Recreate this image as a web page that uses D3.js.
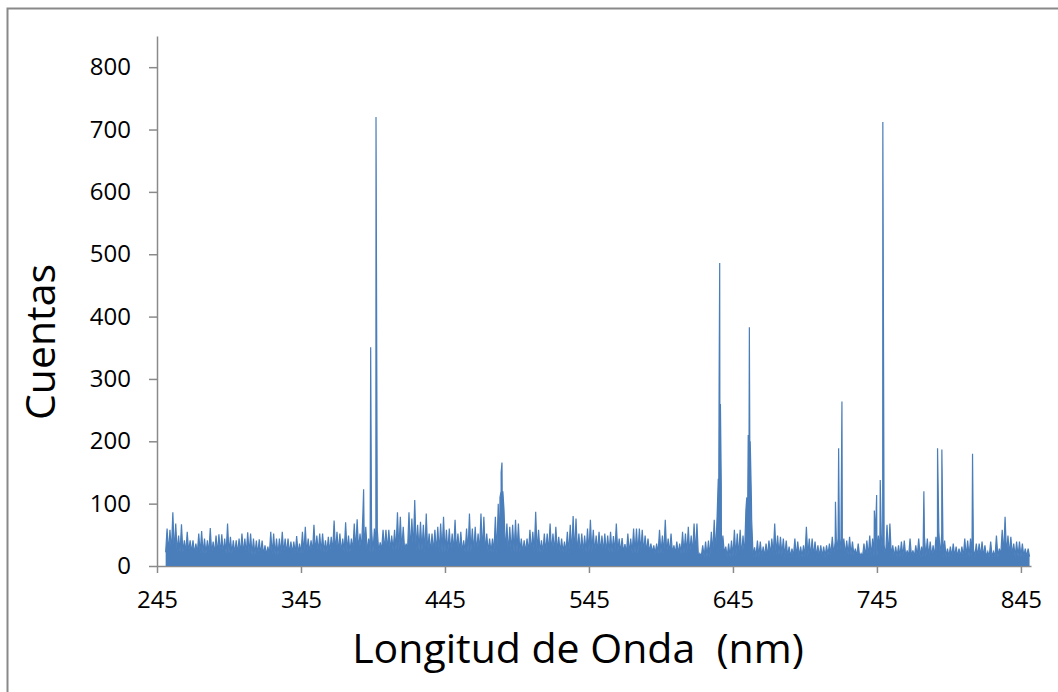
<!DOCTYPE html>
<html>
<head>
<meta charset="utf-8">
<script src="https://cdnjs.cloudflare.com/ajax/libs/d3/7.8.5/d3.min.js"></script>
<style>
  body { margin: 0; background: #fff; }
  text { font-family: "Open Sans", sans-serif; fill: #000; }
</style>
</head>
<body>
<div id="chart"></div>
<script>
// noise envelope: highest count in each 2 nm bin, first bin at 252 nm
var noiseStart = 252, noiseStep = 2;
var noiseHigh = [
  60,58,86,68,49,67,41,55,41,41,
  36,52,56,44,41,61,39,49,51,51,
  44,68,47,41,41,44,52,44,54,52,
  44,41,43,41,33,31,55,52,44,44,
  55,44,44,39,39,48,36,55,63,44,
  41,66,49,52,52,41,47,47,73,55,
  52,44,70,49,44,68,75,52,84,63,
  44,60,60,58,38,58,58,58,49,58,
  86,79,63,36,86,76,106,66,71,66,
  84,52,52,58,63,68,79,58,60,52,
  74,52,55,41,60,84,60,63,52,84,
  79,52,44,44,79,100,120,90,68,63,
  66,74,68,44,41,44,58,55,87,58,
  41,52,52,68,52,63,47,44,39,55,
  66,80,76,52,52,49,60,74,58,49,
  55,49,52,49,55,48,68,44,45,35,
  52,44,60,60,60,58,49,44,36,33,
  36,58,49,74,44,52,33,39,36,55,
  52,63,49,68,68,20,33,39,41,55,
  74,80,60,49,31,36,41,58,52,58,
  49,90,60,74,30,41,39,31,36,41,
  44,68,49,47,44,41,31,28,44,39,
  31,33,63,44,44,39,33,33,31,33,
  36,47,39,45,44,44,41,47,39,28,
  36,20,36,41,49,44,49,49,50,33,
  66,68,33,31,33,39,41,25,44,25,
  33,44,31,47,44,39,33,47,55,52,
  41,28,31,36,31,28,31,44,41,44,
  28,36,36,39,33,23,39,23,49,28,
  58,79,49,47,36,39,39,36,28,28
];

// level the noise drops back to, per 10 nm segment starting at 250 nm
var lowStart = 250, lowStep = 10;
var noiseLow = [
  22,22,20,20,20,20,18,18,20,20,
  22,22,22,25,22,25,25,25,22,22,
  22,22,22,20,22,22,22,22,20,22,
  22,22,20,22,20,20,20,15,20,15,
  15,15,18,15,15,15,18,18,15,15,
  15,15,15,15,15,15,15,15,18,15,
  15
];

// emission lines (nm, counts)
var lineNm = [388.5, 393.4, 397.1,
  483.2, 484.0, 484.6, 485.2,
  634.8, 635.4, 635.8, 636.3, 636.9,
  654.6, 655.6, 656.4, 657.0, 657.8,
  716.2, 718.4, 720.7,
  743.2, 744.8, 747.3, 749.1,
  777.6, 787.1, 790.1, 811.4];
var lineCounts = [123, 351, 720,
  110, 150, 166, 120,
  140, 300, 486, 260, 130,
  110, 210, 383, 200, 110,
  103, 189, 264,
  89, 114, 138, 712,
  120, 189, 187, 180];

var xTicks = [245, 345, 445, 545, 645, 745, 845];
var yTicks = [0, 100, 200, 300, 400, 500, 600, 700, 800];

var width = 1058, height = 692;

var svg = d3.select("#chart")
  .append("svg")
    .attr("width", width)
    .attr("height", height);

// chart border
svg.append("rect")
  .attr("x", 7.5).attr("y", 8.5)
  .attr("width", 1060).attr("height", 700)
  .attr("fill", "none")
  .attr("stroke", "#898989")
  .attr("stroke-width", 2);

var x = d3.scaleLinear().domain([245, 852]).range([157, 1031]);
var y = d3.scaleLinear().domain([0, 850]).range([566, 36]);

// build the point list
var pts = [];
noiseHigh.forEach(function(v, i) {
  var nm = noiseStart + i * noiseStep;
  var lowNm = nm - 1;
  pts.push({nm: lowNm, v: noiseLow[Math.floor((lowNm - lowStart) / lowStep)]});
  pts.push({nm: nm, v: v});
});
var lastNm = noiseStart + noiseHigh.length * noiseStep - 1;
pts.push({nm: lastNm, v: noiseLow[Math.floor((lastNm - lowStart) / lowStep)]});
lineNm.forEach(function(nm, i) {
  pts.push({nm: nm, v: lineCounts[i]});
});
pts.sort(function(a, b) { return a.nm - b.nm; });

// axes
var yAxis = svg.append("g")
  .attr("transform", "translate(157,0)")
  .call(d3.axisLeft(y).tickValues(yTicks).tickSize(8).tickSizeOuter(0).tickPadding(18));
var xAxis = svg.append("g")
  .attr("transform", "translate(0,566)")
  .call(d3.axisBottom(x).tickValues(xTicks).tickSize(7).tickSizeOuter(0).tickPadding(18));

[yAxis, xAxis].forEach(function(g) {
  g.select(".domain").attr("stroke", "#8a8a8a").attr("stroke-width", 1.5);
  g.selectAll(".tick line").attr("stroke", "#8a8a8a").attr("stroke-width", 1.5);
  g.selectAll(".tick text").style("font-size", "24px").style("font-family", "'Open Sans', sans-serif").attr("fill", "#000");
});

// spectrum
var area = d3.area()
  .x(function(d) { return x(d.nm); })
  .y0(y(0))
  .y1(function(d) { return y(d.v); });
var line = d3.line()
  .x(function(d) { return x(d.nm); })
  .y(function(d) { return y(d.v); });

svg.append("path")
  .datum(pts)
  .attr("d", area)
  .attr("fill", "#4a7ebb");
svg.append("path")
  .datum(pts)
  .attr("d", line)
  .attr("fill", "none")
  .attr("stroke", "#4a7ebb")
  .attr("stroke-width", 1.2);

// titles
svg.append("text")
  .attr("x", 578).attr("y", 663)
  .attr("text-anchor", "middle")
  .style("font-size", "41px")
  .text("Longitud de Onda  (nm)")
  .attr("xml:space", "preserve");

svg.append("text")
  .attr("transform", "translate(55,342) rotate(-90)")
  .attr("text-anchor", "middle")
  .style("font-size", "41px")
  .text("Cuentas");
</script>
</body>
</html>
